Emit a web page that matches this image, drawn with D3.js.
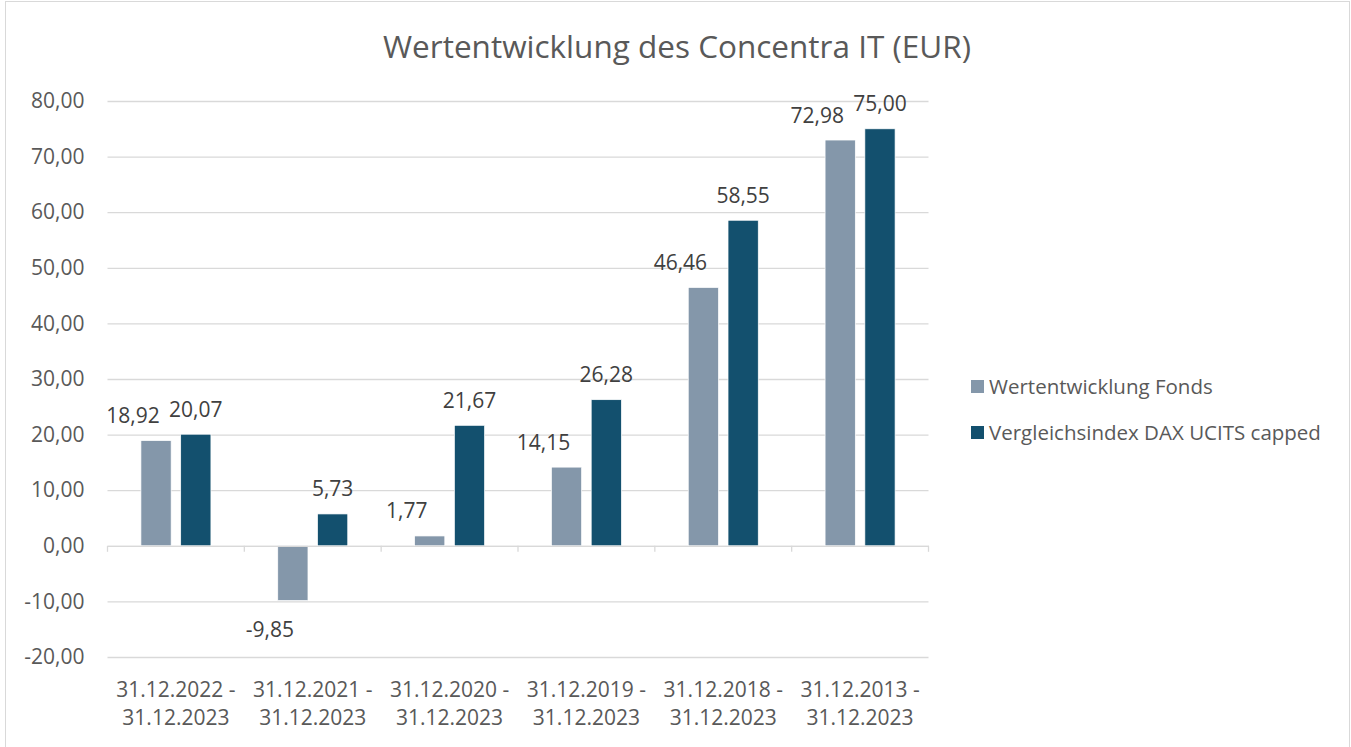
<!DOCTYPE html>
<html><head><meta charset="utf-8">
<script src="https://cdn.jsdelivr.net/npm/d3@7"></script>
<style>
html,body{margin:0;padding:0;background:#fff;}
svg{display:block;font-family:"Open Sans","Noto Sans",sans-serif;}
</style></head>
<body>
<svg id="chart" width="1351" height="747"></svg>
<script>
const categories = [
  ["31.12.2022 -","31.12.2023"],
  ["31.12.2021 -","31.12.2023"],
  ["31.12.2020 -","31.12.2023"],
  ["31.12.2019 -","31.12.2023"],
  ["31.12.2018 -","31.12.2023"],
  ["31.12.2013 -","31.12.2023"]
];
const seriesNames = ["Wertentwicklung Fonds", "Vergleichsindex DAX UCITS capped"];
const fondsValues = [18.92, -9.85, 1.77, 14.15, 46.46, 72.98];
const indexValues = [20.07, 5.73, 21.67, 26.28, 58.55, 75.00];
const yTicks = [-20, -10, 0, 10, 20, 30, 40, 50, 60, 70, 80];
const title = "Wertentwicklung des Concentra IT (EUR)";
const colors = ["#8497AA", "#13506E"];

const svg = d3.select("#chart");
const textColor = "#595959";
const gridColor = "#D9D9D9";
const fmt = v => v.toFixed(2).replace(".", ",");
const fs = 21;

// chart border
svg.append("rect").attr("x", 5.5).attr("y", 1.5).attr("width", 1344).attr("height", 750)
  .attr("fill", "#fff").attr("stroke", "#D9D9D9").attr("stroke-width", 1);

const pLeft = 107.5, pRight = 928.5, pTop = 101, pBottom = 657;
const catKeys = categories.map((c, i) => i);
const x0 = d3.scaleBand().domain(catKeys).range([pLeft, pRight]).paddingInner(0).paddingOuter(0);
const x1 = d3.scaleBand().domain([0, 1]).range([0, x0.bandwidth()]).paddingInner(0.24).paddingOuter(0.84);
const y = d3.scaleLinear().domain([-20, 80]).range([pBottom, pTop]);

// title
svg.append("text").attr("x", 677).attr("y", 58).attr("text-anchor", "middle")
  .attr("font-size", 31.5).attr("fill", textColor).text(title);

// grid
const yAxis = d3.axisLeft(y).tickValues(yTicks).tickSize(-(pRight - pLeft)).tickFormat(fmt).tickPadding(23);
const gy = svg.append("g").attr("transform", `translate(${pLeft},0)`).call(yAxis);
gy.select(".domain").remove();
gy.selectAll(".tick line").attr("stroke", gridColor).attr("stroke-width", 1.3);
gy.selectAll(".tick text").attr("fill", textColor).attr("font-size", fs)
  .attr("font-family", '"Open Sans","Noto Sans",sans-serif');

// bars
const data = catKeys.map(i => ({i, vals: [fondsValues[i], indexValues[i]]}));
const groups = svg.append("g").selectAll("g").data(data).join("g")
  .attr("transform", d => `translate(${x0(d.i)},0)`);
groups.selectAll("rect").data(d => d.vals.map((v, s) => ({v, s}))).join("rect")
  .attr("x", d => x1(d.s)).attr("width", x1.bandwidth())
  .attr("y", d => y(Math.max(0, d.v))).attr("height", d => Math.abs(y(d.v) - y(0)))
  .attr("fill", d => colors[d.s]).attr("stroke", "#fff").attr("stroke-width", 0.7);

// x axis (zero line with ticks)
const xAxis = d3.axisBottom(x0).tickValues([]).tickSize(0);
const gx = svg.append("g").attr("transform", `translate(0,${y(0)})`).call(xAxis);
gx.select(".domain").attr("stroke", gridColor).attr("stroke-width", 1.3);
const bounds = catKeys.map(i => x0(i)).concat([pRight]);
gx.selectAll(".cat-tick").data(bounds).join("line").attr("class", "cat-tick")
  .attr("x1", d => d).attr("x2", d => d).attr("y1", 0).attr("y2", 6)
  .attr("stroke", gridColor).attr("stroke-width", 1.3);

// category labels
const cl = svg.append("g").selectAll("text").data(data).join("text")
  .attr("text-anchor", "middle").attr("font-size", fs).attr("fill", textColor);
cl.each(function(d) {
  const t = d3.select(this);
  categories[d.i].forEach((line, k) => {
    t.append("tspan").attr("x", x0(d.i) + x0.bandwidth() / 2).attr("y", 697 + k * 28).text(line);
  });
});

// data labels (fund labels are offset to the left, as in the original)
const labelShift = [-23, 0];
groups.selectAll("text.lbl").data(d => d.vals.map((v, s) => ({v, s}))).join("text")
  .attr("class", "lbl").attr("text-anchor", "middle").attr("font-size", fs).attr("fill", "#404040")
  .attr("x", d => x1(d.s) + x1.bandwidth() / 2 + labelShift[d.s])
  .attr("y", d => d.v >= 0 ? y(d.v) - 17.5 : y(d.v) + 36.5)
  .text(d => fmt(d.v));

// legend
const lg = svg.append("g").selectAll("g").data(seriesNames).join("g")
  .attr("transform", (d, i) => `translate(971,${380 + i * 46})`);
lg.append("rect").attr("width", 13).attr("height", 13).attr("fill", (d, i) => colors[i]);
lg.append("text").attr("x", 18).attr("y", 13.5).attr("font-size", 20.5).attr("fill", textColor).text(d => d);
</script>
</body></html>
